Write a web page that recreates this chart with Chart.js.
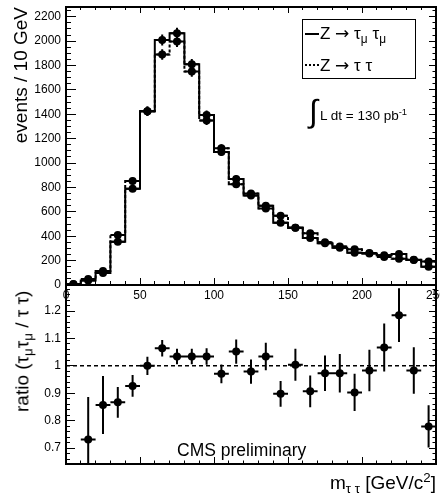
<!DOCTYPE html>
<html><head><meta charset="utf-8">
<script src="https://cdn.jsdelivr.net/npm/chart.js@4"></script>
<style>
html,body{margin:0;padding:0;background:#fff;}
#wrap{position:relative;width:440px;height:493px;overflow:hidden;font-family:'Liberation Sans',Arial,sans-serif;color:#000;}
canvas{position:absolute;left:0;top:0;}
.ov{position:absolute;white-space:nowrap;line-height:1;}
.arr{font-family:'DejaVu Sans',sans-serif;}
sub{font-size:0.7em;vertical-align:-0.3em;line-height:0;}
sup{font-size:0.7em;vertical-align:0.55em;line-height:0;}
</style></head><body>
<div id="wrap">
<canvas id="lower" width="440" height="493"></canvas>
<canvas id="upper" width="440" height="493"></canvas>
<div class="ov" style="left:302px;top:19px;width:112px;height:58px;border:1px solid #000;background:#fff;"></div>
<div class="ov" style="left:305px;top:33px;width:14px;height:0;border-top:2px solid #000;"></div>
<div class="ov" style="left:305px;top:64px;width:14px;height:0;border-top:2px dotted #000;"></div>
<div class="ov" style="left:320px;top:24.6px;font-size:17px;">Z <span class="arr">→</span> τ<sub>μ</sub> τ<sub>μ</sub></div>
<div class="ov" style="left:320px;top:57.3px;font-size:17px;">Z <span class="arr">→</span> τ τ</div>
<div class="ov" style="left:309px;top:95px;font-size:32px;">∫</div>
<div class="ov" style="left:320px;top:109px;font-size:13.5px;">L dt = 130 pb<sup>-1</sup></div>
<div class="ov" style="left:177px;top:442.2px;font-size:17.5px;">CMS preliminary</div>
<div class="ov" style="right:4px;top:472.9px;font-size:19px;">m<sub>τ τ</sub> [GeV/c<sup>2</sup>]</div>
<div class="ov" style="left:0;top:0;font-size:19px;transform-origin:0 0;transform:translate(12.4px,412px) rotate(-90deg);">ratio (τ<sub>μ</sub>τ<sub>μ</sub> / τ τ)</div>
</div>
<script>
// ---- data ----
const massBinLow = [0,10,20,30,40,50,60,70,80,90,100,110,120,130,140,150,160,170,180,190,200,210,220,230,240];
const binWidth = 10;
const eventsTauMuTauMu = [6,37,98,355,790,1425,2010,2065,1810,1395,1090,870,735,650,510,470,385,342,306,265,258,245,255,205,150];
const errTauMuTauMu    = [3,6,10,19,28,38,45,45,43,37,33,30,27,25,23,22,20,18,17,16,16,16,16,14,12];
const eventsTauTau     = [9,50,114,410,852,1425,1890,1997,1750,1350,1122,827,751,628,568,470,425,351,315,293,262,230,215,208,193];
const errTauTau        = [3,7,11,20,29,38,43,45,42,37,33,29,27,25,24,22,21,19,18,17,16,15,15,14,14];
const ratioValues = [null,0.731,0.857,0.867,0.927,1.0,1.064,1.034,1.034,1.034,0.971,1.052,0.979,1.034,0.898,1.004,0.907,0.973,0.973,0.903,0.983,1.067,1.185,0.983,0.779];
const ratioErrors = [null,0.155,0.106,0.056,0.04,0.033,0.03,0.028,0.028,0.03,0.034,0.044,0.044,0.05,0.047,0.058,0.058,0.065,0.07,0.068,0.076,0.088,0.098,0.085,0.077];
const ratioReference = 1;
const xRange = [0, 250];
const upperYRange = [0, 2280];
const ratioYRange = [0.642, 1.295];
const xMajorStep = 50, xMinorStep = 10;
const upperMajorStep = 200, upperMinorStep = 50;
const ratioMajorStep = 0.1, ratioMinorStep = 0.02;

// ---- helpers building library data from the arrays ----
function stepData(vals){
  const d = massBinLow.map((x,i)=>({x:x, y:vals[i]}));
  d.push({x: massBinLow[massBinLow.length-1] + binWidth, y: vals[vals.length-1]});
  return d;
}
function pointData(vals){
  const d=[]; massBinLow.forEach((x,i)=>{ if(vals[i]!=null) d.push({x:x+binWidth/2, y:vals[i]}); }); return d;
}
function vErrData(vals, errs){
  const d=[]; massBinLow.forEach((x,i)=>{ if(vals[i]==null) return; const c=x+binWidth/2;
    d.push({x:c,y:vals[i]-errs[i]},{x:c,y:vals[i]+errs[i]},{x:c,y:null}); }); return d;
}
function hErrData(vals){
  const d=[]; massBinLow.forEach((x,i)=>{ if(vals[i]==null) return;
    d.push({x:x,y:vals[i]},{x:x+binWidth,y:vals[i]},{x:x+binWidth,y:null}); }); return d;
}
const fmt = v => String(Math.round(v*1000)/1000);

Chart.defaults.font.family = "'Liberation Sans', Arial, sans-serif";
Chart.defaults.color = '#000';

function axis(o){
  return {
    type:'linear', position:o.position, min:o.range[0], max:o.range[1], weight:o.weight||0,
    afterFit: s => { if (s.isHorizontal()) s.height = o.size||0; else s.width = o.size||0;
      s.paddingLeft = 0; s.paddingRight = 0; s.paddingTop = 0; s.paddingBottom = 0; },
    border:{display:!!o.border, color:'#000', width:2},
    grid:{display:true, drawOnChartArea:false, drawTicks: o.tick>0, tickLength:-(o.tick||0), color:'#000', tickColor:'#000', tickWidth:1, lineWidth:1},
    ticks:{display:!!o.labels, stepSize:o.step, autoSkip:false, maxRotation:0, minRotation:0, includeBounds:false,
      padding:o.pad||0, font:{size:12}, color:'#000', callback: fmt},
    title: o.title || {display:false}
  };
}
function marker(data){ return {type:'line', data, showLine:false, pointRadius:4, pointHoverRadius:4, pointBackgroundColor:'#000', pointBorderWidth:0, borderColor:'#000'}; }
function bars(data){ return {type:'line', data, borderColor:'#000', borderWidth:2, pointRadius:0, pointHoverRadius:0, spanGaps:false, fill:false}; }

// ---- upper panel ----
new Chart(document.getElementById('upper'), {
  type:'line',
  data:{datasets:[
    marker(pointData(eventsTauMuTauMu)),
    marker(pointData(eventsTauTau)),
    bars(vErrData(eventsTauMuTauMu, errTauMuTauMu)),
    bars(vErrData(eventsTauTau, errTauTau)),
    bars(hErrData(eventsTauMuTauMu)),
    bars(hErrData(eventsTauTau)),
    {type:'line', label:'Z → τμ τμ', data:stepData(eventsTauMuTauMu), stepped:'before', borderColor:'#000', borderWidth:2, pointRadius:0, fill:false},
    {type:'line', label:'Z → τ τ', data:stepData(eventsTauTau), stepped:'before', borderColor:'#000', borderWidth:2, borderDash:[3,2], pointRadius:0, fill:false}
  ]},
  options:{
    responsive:false, animation:false, events:[],
    layout:{padding:{top:7, right:4, bottom:188, left:0}},
    plugins:{legend:{display:false}, tooltip:{enabled:false}},
    scales:{
      x: axis({position:'bottom', range:xRange, step:xMajorStep, tick:7, labels:true, pad:10, border:true, weight:2, size:20}),
      xMinor: axis({position:'bottom', range:xRange, step:xMinorStep, tick:4, weight:1}),
      xTop: axis({position:'top', range:xRange, step:xMajorStep, tick:6, border:true, weight:2}),
      xTopMinor: axis({position:'top', range:xRange, step:xMinorStep, tick:3, weight:1}),
      y: axis({position:'left', range:upperYRange, step:upperMajorStep, tick:10, labels:true, pad:15, border:true, weight:2, size:66,
        title:{display:true, text:'events / 10 GeV', align:'end', font:{size:19}, color:'#000', padding:{top:10, bottom:0}}}),
      yMinor: axis({position:'left', range:upperYRange, step:upperMinorStep, tick:5, weight:1}),
      yRight: axis({position:'right', range:upperYRange, step:upperMajorStep, tick:7, border:true, weight:1}),
      yRightMinor: axis({position:'right', range:upperYRange, step:upperMinorStep, tick:3.5, weight:2})
    }
  }
});

// ---- lower (ratio) panel ----
new Chart(document.getElementById('lower'), {
  type:'line',
  data:{datasets:[
    marker(pointData(ratioValues)),
    bars(vErrData(ratioValues, ratioErrors)),
    bars(hErrData(ratioValues)),
    {type:'line', data:[{x:xRange[0], y:ratioReference},{x:xRange[1], y:ratioReference}], borderColor:'#000', borderWidth:1.5, borderDash:[4,3], pointRadius:0, fill:false}
  ]},
  options:{
    responsive:false, animation:false, events:[],
    layout:{padding:{top:285, right:4, bottom:29, left:0}},
    plugins:{legend:{display:false}, tooltip:{enabled:false}},
    scales:{
      x: axis({position:'bottom', range:xRange, step:xMajorStep, tick:7, border:true, weight:2}),
      xMinor: axis({position:'bottom', range:xRange, step:xMinorStep, tick:3.5, weight:1}),
      xTop: axis({position:'top', range:xRange, step:xMajorStep, tick:0, border:true, weight:2}),
      y: axis({position:'left', range:ratioYRange, step:ratioMajorStep, tick:9, labels:true, pad:14, border:true, weight:2, size:66}),
      yMinor: axis({position:'left', range:ratioYRange, step:ratioMinorStep, tick:4, weight:1}),
      yRight: axis({position:'right', range:ratioYRange, step:ratioMajorStep, tick:7, border:true, weight:1}),
      yRightMinor: axis({position:'right', range:ratioYRange, step:ratioMinorStep, tick:3.5, weight:2})
    }
  }
});
</script>
</body></html>
